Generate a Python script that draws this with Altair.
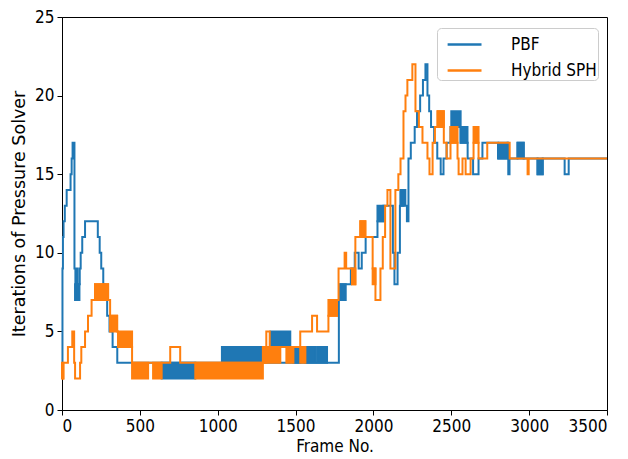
import altair as alt
import pandas as pd

# ---- PBF (blue) step change points: frame -> iterations ----
pbf_frames = [0, 3, 6, 10, 18, 30, 55, 62, 68, 80, 86, 94, 100, 106, 114, 120, 130, 148,
              230, 242, 252, 265, 278, 290, 305, 325, 340, 355, 1290, 1700, 1778, 1786,
              1822, 1855, 1880, 1905, 1925, 1950, 2026, 2064, 2125, 2135, 2155, 2170,
              2193, 2205, 2215, 2225, 2240, 2265, 2280, 2300, 2318, 2334, 2347, 2358,
              2370, 2390, 2410, 2432, 2450, 2470, 2495, 2560, 2605, 2640, 2675, 2700,
              2800, 2862, 2866, 2874, 2925, 2965, 3054, 3087, 3228, 3254, 3500]
pbf_values = [3, 9, 11, 12, 13, 14, 15, 16, 17, 9, 7, 9, 7, 8, 9, 10, 11, 12,
              11, 10, 9, 8, 7, 6, 5, 4, 4, 3, 3, 3, 7, 8,
              8, 9, 10, 9, 10, 11, 12, 13, 10, 8, 10, 13,
              14, 13, 12, 16, 17, 18, 19, 20, 21, 22, 20, 19,
              18, 17, 16, 15, 16, 17, 18, 17, 16, 15, 16, 17,
              16, 17, 15, 16, 17, 16, 15, 16, 15, 16, 16]

# ---- Hybrid SPH (orange) step change points ----
sph_frames = [0, 7, 38, 66, 78, 84, 116, 124, 148, 167, 190, 212, 296, 309, 354, 360,
              450, 695, 759, 1290, 1312, 1334, 1530, 1606, 1638, 1711, 1766, 1776,
              1815, 1825, 1863, 1884, 1916, 1948, 1995, 2013, 2045, 2060, 2075, 2090,
              2109, 2141, 2160, 2174, 2193, 2206, 2218, 2250, 2270, 2292, 2315, 2347,
              2360, 2380, 2395, 2412, 2452, 2470, 2495, 2540, 2547, 2572, 2592, 2624,
              2643, 2675, 2731, 2875, 2990, 2997, 3500]
sph_values = [2, 3, 4, 5, 3, 2, 3, 4, 5, 6, 7, 8, 7, 6, 5, 4,
              3, 4, 3, 3, 5, 4, 5, 6, 5, 6, 7, 9,
              10, 9, 8, 11, 12, 11, 9, 7, 9, 11, 13, 14,
              9, 14, 15, 16, 19, 20, 21, 22, 19, 18, 17, 16,
              15, 17, 18, 19, 17, 16, 17, 16, 15, 16, 15, 16,
              17, 16, 17, 16, 15, 16, 16]

# ---- rapid oscillation bands (frame range, low/high iteration) ----
band_series = ["PBF", "PBF", "PBF", "PBF", "PBF", "PBF", "PBF", "PBF", "PBF", "PBF",
               "PBF", "PBF", "PBF", "PBF", "PBF",
               "Hybrid SPH", "Hybrid SPH", "Hybrid SPH", "Hybrid SPH", "Hybrid SPH",
               "Hybrid SPH", "Hybrid SPH", "Hybrid SPH", "Hybrid SPH", "Hybrid SPH",
               "Hybrid SPH", "Hybrid SPH", "Hybrid SPH", "Hybrid SPH", "Hybrid SPH",
               "Hybrid SPH", "Hybrid SPH"]
band_start = [84, 640, 1027, 1338, 1486, 1563, 1638, 1788, 2026, 2173, 2500, 2560,
              2804, 2926, 3054,
              0, 212, 309, 360, 450, 585, 856, 1290, 1441, 1530, 1711, 1863, 1916,
              1995, 2412, 2495, 2643]
band_end = [112, 856, 1290, 1466, 1530, 1627, 1702, 1822, 2064, 2193, 2560, 2604,
            2862, 2965, 3087,
            10, 296, 354, 450, 553, 640, 1290, 1402, 1486, 1563, 1766, 1884, 1948,
            2013, 2452, 2540, 2675]
band_low = [7, 2, 3, 4, 3, 3, 3, 7, 12, 13, 18, 17,
            16, 16, 15,
            2, 7, 5, 4, 2, 2, 2, 3, 3, 3, 6, 8, 11,
            8, 18, 17, 17]
band_high = [8, 3, 4, 5, 4, 4, 4, 8, 13, 14, 19, 18,
             17, 17, 16,
             3, 8, 6, 5, 3, 3, 3, 4, 4, 4, 7, 9, 12,
             9, 19, 18, 18]

series_names = ["PBF", "Hybrid SPH"]
series_colors = ["#1f77b4", "#ff7f0e"]

lines = pd.concat([
    pd.DataFrame({"frame": pbf_frames, "iters": pbf_values, "series": "PBF"}),
    pd.DataFrame({"frame": sph_frames, "iters": sph_values, "series": "Hybrid SPH"}),
])
bands = pd.DataFrame({"series": band_series, "x0": band_start, "x1": band_end,
                      "y0": band_low, "y1": band_high})

FONT_C = "DejaVu Sans Condensed, DejaVu Sans"
FONT = "DejaVu Sans"

xscale = alt.Scale(domain=[0, 3500], nice=False, zero=False)
yscale = alt.Scale(domain=[0, 25], nice=False)
xaxis = alt.Axis(values=list(range(0, 3501, 500)), format="d", title="Frame No.", grid=False,
                 labelFont=FONT_C, titleFont=FONT_C, titlePadding=4)
yaxis = alt.Axis(values=list(range(0, 26, 5)), format="d", title="Iterations of Pressure Solver",
                 grid=False, labelFont=FONT_C, titleFont=FONT, titleFontSize=17.5, titlePadding=6)


def layer_for(name, color):
    ln = alt.Chart(lines[lines.series == name]).mark_line(
        interpolate="step-after", strokeWidth=2, strokeJoin="miter"
    ).encode(
        x=alt.X("frame:Q", scale=xscale, axis=xaxis),
        y=alt.Y("iters:Q", scale=yscale, axis=yaxis),
        color=alt.Color("series:N", scale=alt.Scale(domain=series_names, range=series_colors),
                        sort=series_names, title=None,
                        legend=alt.Legend(labelExpr="datum.label + '  '")),
    )
    bd = alt.Chart(bands[bands.series == name]).mark_rect(
        color=color, stroke=color, strokeWidth=2
    ).encode(
        x=alt.X("x0:Q", scale=xscale, axis=xaxis),
        x2="x1:Q",
        y=alt.Y("y0:Q", scale=yscale, axis=yaxis),
        y2="y1:Q",
    )
    return [ln, bd]


chart = alt.layer(
    *layer_for("PBF", series_colors[0]),
    *layer_for("Hybrid SPH", series_colors[1]),
).properties(
    width=545, height=393,
    autosize=alt.AutoSizeParams(type="none"),
    padding={"left": 62, "top": 17, "right": 21, "bottom": 49},
).configure_view(
    stroke="black", strokeWidth=1
).configure_axis(
    labelFontSize=17, titleFontSize=17,
    labelColor="black", titleColor="black", titleFontWeight="normal",
    domainColor="black", tickColor="black", tickSize=5, labelPadding=3,
).configure_legend(
    orient="none", legendX=375, legendY=11, symbolType="M-0.42,0H2.0", symbolSize=784,
    symbolStrokeWidth=2.5, symbolFillColor="transparent",
    labelFont=FONT_C, labelFontSize=17, labelColor="black",
    strokeColor="#cccccc", fillColor="white", cornerRadius=4, padding=1,
    rowPadding=2, labelOffset=42,
)

chart.save("out.html", embed_options={"renderer": "svg", "actions": False})
